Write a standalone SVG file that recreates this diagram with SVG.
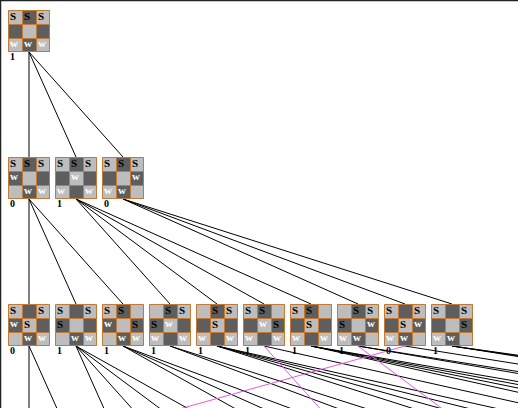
<svg xmlns="http://www.w3.org/2000/svg" xmlns:xlink="http://www.w3.org/1999/xlink" width="518" height="408" viewBox="0 0 518 408">
<style>
.lt{fill:#bdbdbd}.dk{fill:#5e5e5e}
.gr{stroke:#c27a36;stroke-width:1;fill:none}
.s{font-family:"Liberation Serif",serif;font-weight:bold;font-size:11px;fill:#000}
.w{font-family:"Liberation Serif",serif;font-weight:bold;font-size:11px;fill:#fff}
.n{font-family:"Liberation Serif",serif;font-weight:bold;font-size:10px;fill:#000}
.e{stroke:#000;stroke-width:1;fill:none}
.m{stroke:#e05ce0;stroke-width:1;fill:none}
</style>
<defs>
<g id="cb">
<rect class="lt" x="0" y="0" width="42" height="42"/>
<rect class="dk" x="14" y="0" width="14" height="14"/>
<rect class="dk" x="0" y="14" width="14" height="14"/>
<rect class="dk" x="28" y="14" width="14" height="14"/>
<rect class="dk" x="14" y="28" width="14" height="14"/>
<path class="gr" d="M0.5 0.5H41.5V41.5H0.5Z M14.5 0.5V41.5 M28.5 0.5V41.5 M0.5 14.5H41.5 M0.5 28.5H41.5"/>
</g>
</defs>
<rect width="518" height="408" fill="#fff"/>
<path d="M0.5 0V408 M0 0.5H518" stroke="#222" stroke-width="1.5"/>
<g id="connectors">
<path class="e" d="M29 52L29 157M29 52L76 157M29 52L123 157"/>
<path class="e" d="M29 199L29 304M29 199L76 304M29 199L123 304"/>
<path class="e" d="M76 199L170 304M76 199L217 304M76 199L264 304M76 199L311 304"/>
<path class="e" d="M123 199L358 304M123 199L405 304M123 199L452 304"/>
<path class="e" d="M29 346L29 451M29 346L76 451"/>
<path class="e" d="M76 346L123 451M76 346L170 451M76 346L217 451M76 346L264 451"/>
<path class="e" d="M123 346L311 451M123 346L358 451M123 346L405 451"/>
<path class="e" d="M170 346L452 451M170 346L499 451"/>
<path class="e" d="M217 346L546 451M217 346L593 451M217 346L640 451M217 346L687 451"/>
<path class="e" d="M264 346L734 451"/>
<path class="e" d="M311 346L781 451M311 346L828 451M311 346L875 451M311 346L922 451"/>
<path class="e" d="M358 346L969 451M358 346L1016 451"/>
<path class="e" d="M405 346L1063 451"/>
<path class="e" d="M452 346L1110 451M452 346L1157 451M452 346L1204 451"/>
<path class="m" d="M264 346L358 451M358 346L499 451M405 346L29 451"/>
</g>
<g id="n0" transform="translate(8,10)"><use xlink:href="#cb"/>
<text class="s" x="2" y="10">S</text><text class="s" x="16" y="10">S</text><text class="s" x="30" y="10">S</text>
<text class="w" x="2" y="37">w</text><text class="w" x="16" y="37">w</text><text class="w" x="30" y="37">w</text>
<text class="n" x="2" y="50">1</text></g>
<g id="n1" transform="translate(8,157)"><use xlink:href="#cb"/>
<text class="s" x="2" y="10">S</text><text class="s" x="16" y="10">S</text><text class="s" x="30" y="10">S</text>
<text class="w" x="2" y="23">w</text><text class="w" x="16" y="37">w</text><text class="w" x="30" y="37">w</text>
<text class="n" x="2" y="50">0</text></g>
<g id="n2" transform="translate(55,157)"><use xlink:href="#cb"/>
<text class="s" x="2" y="10">S</text><text class="s" x="16" y="10">S</text><text class="s" x="30" y="10">S</text>
<text class="w" x="16" y="23">w</text><text class="w" x="2" y="37">w</text><text class="w" x="30" y="37">w</text>
<text class="n" x="2" y="50">1</text></g>
<g id="n3" transform="translate(102,157)"><use xlink:href="#cb"/>
<text class="s" x="2" y="10">S</text><text class="s" x="16" y="10">S</text><text class="s" x="30" y="10">S</text>
<text class="w" x="30" y="23">w</text><text class="w" x="2" y="37">w</text><text class="w" x="16" y="37">w</text>
<text class="n" x="2" y="50">0</text></g>
<g id="n4" transform="translate(8,304)"><use xlink:href="#cb"/>
<text class="s" x="2" y="10">S</text><text class="s" x="30" y="10">S</text>
<text class="w" x="2" y="23">w</text><text class="s" x="16" y="24">S</text>
<text class="w" x="16" y="37">w</text><text class="w" x="30" y="37">w</text>
<text class="n" x="2" y="50">0</text></g>
<g id="n5" transform="translate(55,304)"><use xlink:href="#cb"/>
<text class="s" x="2" y="10">S</text><text class="s" x="30" y="10">S</text>
<text class="s" x="2" y="24">S</text>
<text class="w" x="16" y="37">w</text><text class="w" x="30" y="37">w</text>
<text class="n" x="2" y="50">1</text></g>
<g id="n6" transform="translate(102,304)"><use xlink:href="#cb"/>
<text class="s" x="2" y="10">S</text><text class="s" x="16" y="10">S</text>
<text class="w" x="2" y="23">w</text><text class="s" x="30" y="24">S</text>
<text class="w" x="16" y="37">w</text><text class="w" x="30" y="37">w</text>
<text class="n" x="2" y="50">1</text></g>
<g id="n7" transform="translate(149,304)"><use xlink:href="#cb"/>
<text class="s" x="16" y="10">S</text><text class="s" x="30" y="10">S</text>
<text class="s" x="2" y="24">S</text><text class="w" x="16" y="23">w</text>
<text class="w" x="2" y="37">w</text><text class="w" x="30" y="37">w</text>
<text class="n" x="2" y="50">1</text></g>
<g id="n8" transform="translate(196,304)"><use xlink:href="#cb"/>
<text class="s" x="16" y="10">S</text><text class="s" x="30" y="10">S</text>
<text class="s" x="16" y="24">S</text>
<text class="w" x="2" y="37">w</text><text class="w" x="30" y="37">w</text>
<text class="n" x="2" y="50">1</text></g>
<g id="n9" transform="translate(243,304)"><use xlink:href="#cb"/>
<text class="s" x="2" y="10">S</text><text class="s" x="16" y="10">S</text>
<text class="w" x="16" y="23">w</text><text class="s" x="30" y="24">S</text>
<text class="w" x="2" y="37">w</text><text class="w" x="30" y="37">w</text>
<text class="n" x="2" y="50">1</text></g>
<g id="n10" transform="translate(290,304)"><use xlink:href="#cb"/>
<text class="s" x="2" y="10">S</text><text class="s" x="16" y="10">S</text>
<text class="s" x="16" y="24">S</text>
<text class="w" x="2" y="37">w</text><text class="w" x="30" y="37">w</text>
<text class="n" x="2" y="50">1</text></g>
<g id="n11" transform="translate(337,304)"><use xlink:href="#cb"/>
<text class="s" x="16" y="10">S</text><text class="s" x="30" y="10">S</text>
<text class="s" x="2" y="24">S</text><text class="w" x="30" y="23">w</text>
<text class="w" x="2" y="37">w</text><text class="w" x="16" y="37">w</text>
<text class="n" x="2" y="50">1</text></g>
<g id="n12" transform="translate(384,304)"><use xlink:href="#cb"/>
<text class="s" x="2" y="10">S</text><text class="s" x="30" y="10">S</text>
<text class="s" x="16" y="24">S</text><text class="w" x="30" y="23">w</text>
<text class="w" x="2" y="37">w</text><text class="w" x="16" y="37">w</text>
<text class="n" x="2" y="50">0</text></g>
<g id="n13" transform="translate(431,304)"><use xlink:href="#cb"/>
<text class="s" x="2" y="10">S</text><text class="s" x="30" y="10">S</text>
<text class="s" x="30" y="24">S</text>
<text class="w" x="2" y="37">w</text><text class="w" x="16" y="37">w</text>
<text class="n" x="2" y="50">1</text></g>
</svg>
